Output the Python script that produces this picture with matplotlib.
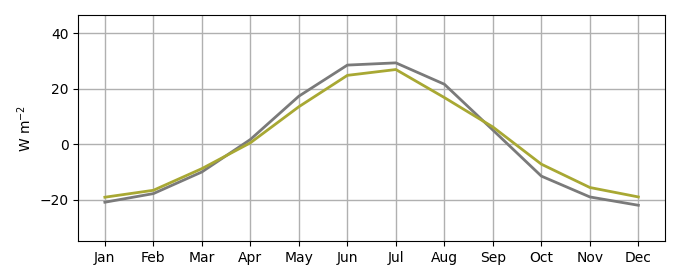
import matplotlib
matplotlib.use("Agg")
import matplotlib.pyplot as plt

months = ["Jan", "Feb", "Mar", "Apr", "May", "Jun", "Jul", "Aug", "Sep", "Oct", "Nov", "Dec"]
series_gray = [-20.8, -17.7, -9.9, 1.8, 17.4, 28.6, 29.4, 21.7, 5.2, -11.4, -18.9, -21.9]
series_olive = [-19.0, -16.5, -8.7, 0.6, 13.6, 24.9, 27.0, 16.9, 6.3, -7.1, -15.5, -18.9]

fig, ax = plt.subplots(figsize=(6.8, 2.8), dpi=100)
x = range(len(months))
ax.plot(x, series_gray, color="#7a7a7a", lw=2)
ax.plot(x, series_olive, color="#a8a833", lw=2)
ax.set_xticks(list(x))
ax.set_xticklabels(months)
ax.set_ylim(-34.8, 46.6)
ax.set_yticks([-20, 0, 20, 40])
ax.set_ylabel("W m$^{-2}$")
ax.grid(True, color="#b0b0b0", lw=1)
ax.set_axisbelow(True)
fig.subplots_adjust(left=0.115, right=0.978, top=0.946, bottom=0.139)
fig.savefig("out.png", dpi=100)
